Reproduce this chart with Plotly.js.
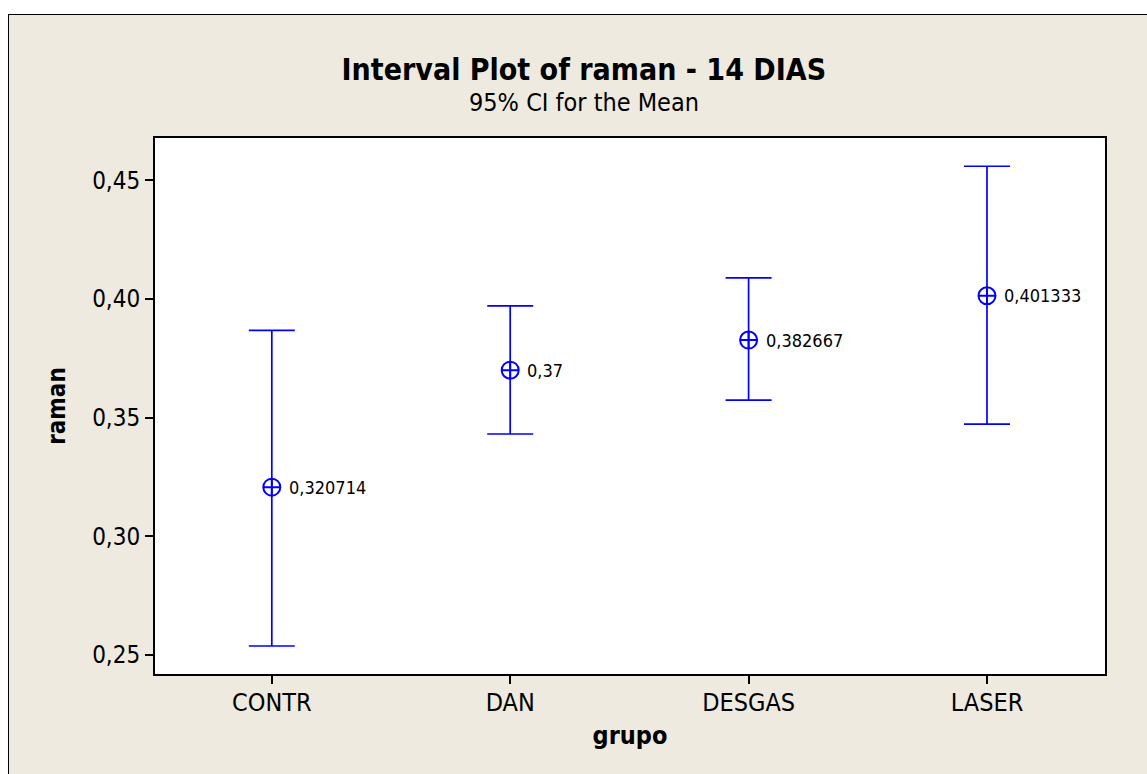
<!DOCTYPE html>
<html>
<head>
<meta charset="utf-8">
<script src="https://cdn.plot.ly/plotly-3.0.1.min.js"></script>
<style>
  html, body { margin: 0; padding: 0; background: #ffffff; width: 1147px; height: 774px; overflow: hidden; }
  #bg { position: absolute; left: 8px; top: 14px; width: 1200px; height: 800px; background: #eeeae0; border-left: 1.5px solid #000; border-top: 1.5px solid #000; }
  #chart { position: absolute; left: 0; top: 0; width: 1147px; height: 774px; }
</style>
</head>
<body>
<div id="bg"></div>
<div id="chart"></div>
<script>
// Data
const groups = ["CONTR", "DAN", "DESGAS", "LASER"];
const means  = [0.320714, 0.37, 0.382667, 0.401333];
const upper  = [0.3868, 0.3971, 0.4089, 0.4559];
const lower  = [0.2538, 0.3431, 0.3574, 0.3473];
const yTicks = [0.25, 0.30, 0.35, 0.40, 0.45];

const FONT = "DejaVu Sans Condensed, DejaVu Sans, sans-serif";
const BLUE = "#0000ff";

const labels = means.map(v => String(v).replace(".", ","));

const trace = {
  type: "scatter",
  mode: "markers",
  x: groups,
  y: means,
  marker: { symbol: "circle-cross-open", size: 17, color: BLUE, line: { color: BLUE, width: 2 } },
  error_y: {
    type: "data",
    symmetric: false,
    array: upper.map((u, i) => u - means[i]),
    arrayminus: lower.map((l, i) => means[i] - l),
    color: BLUE,
    thickness: 1.7,
    width: 23
  },
  cliponaxis: false,
  hoverinfo: "skip"
};

const valueNotes = groups.map((g, i) => ({
  x: g, y: means[i], xref: "x", yref: "y",
  text: labels[i],
  xanchor: "left", yanchor: "middle",
  xshift: 15,
  showarrow: false,
  font: { family: FONT, size: 18, color: "#000" }
}));

const layout = {
  width: 1147,
  height: 774,
  margin: { l: 155, r: 42, t: 138, b: 100 },
  paper_bgcolor: "rgba(0,0,0,0)",
  plot_bgcolor: "#ffffff",
  separators: ",.",
  showlegend: false,
  font: { family: FONT, color: "#000" },
  title: {
    text: "<b>Interval Plot of raman - 14 DIAS</b>",
    font: { family: FONT, size: 30, color: "#000" },
    xref: "container", x: 0.509, xanchor: "center",
    yref: "container", y: 0.91, yanchor: "middle"
  },
  annotations: [{
    text: "95% CI for the Mean",
    xref: "paper", yref: "paper",
    x: (584 - 155) / 950, xanchor: "center",
    y: (674 - 103) / 536, yanchor: "middle",
    showarrow: false,
    font: { family: FONT, size: 25, color: "#000" }
  }].concat(valueNotes),
  xaxis: {
    type: "category",
    range: [-0.49, 3.495],
    showline: true, mirror: true, linecolor: "#000", linewidth: 2,
    ticks: "outside", ticklen: 8, tickwidth: 2, tickcolor: "#000",
    ticklabelstandoff: -3,
    showgrid: false, zeroline: false,
    tickfont: { family: FONT, size: 25, color: "#000" },
    title: { text: "<b>grupo</b>", font: { family: FONT, size: 25, color: "#000" }, standoff: 10 }
  },
  yaxis: {
    range: [0.242, 0.4678],
    tickvals: yTicks,
    ticktext: yTicks.map(v => v.toFixed(2).replace(".", ",")),
    showline: true, mirror: true, linecolor: "#000", linewidth: 2,
    ticks: "outside", ticklen: 8, tickwidth: 2, tickcolor: "#000",
    showgrid: false, zeroline: false,
    tickfont: { family: FONT, size: 24, color: "#000" },
    title: { text: "<b>raman</b>", font: { family: FONT, size: 24, color: "#000" }, standoff: 20 }
  }
};

Plotly.newPlot("chart", [trace], layout, { staticPlot: true, displayModeBar: false });
</script>
</body>
</html>
